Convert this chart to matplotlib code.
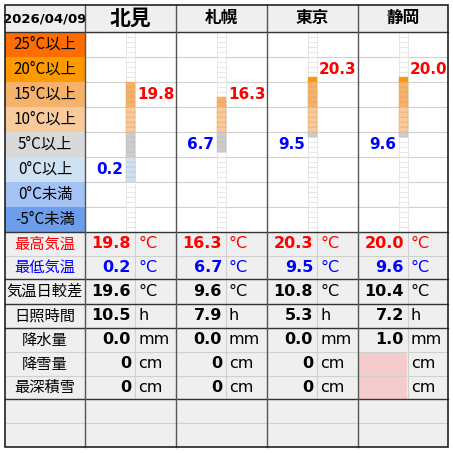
import math
import matplotlib
matplotlib.use("Agg")
import matplotlib.pyplot as plt
from matplotlib.patches import Rectangle

plt.rcParams['font.family'] = ['Noto Sans CJK JP', 'DejaVu Sans']

date_label = "2026/04/09"
cities = ["北見", "札幌", "東京", "静岡"]
t_max = [19.8, 16.3, 20.3, 20.0]
t_min = [0.2, 6.7, 9.5, 9.6]
t_range = [19.6, 9.6, 10.8, 10.4]
sunshine = [10.5, 7.9, 5.3, 7.2]
precip = [0.0, 0.0, 0.0, 1.0]
snowfall = [0, 0, 0, None]
snowdepth = [0, 0, 0, None]
band_labels = ["25°C以上", "20°C以上", "15°C以上", "10°C以上", "5°C以上", "0°C以上", "0°C未満", "-5°C未満"]
band_lows = [25, 20, 15, 10, 5, 0, -5, -10]
band_colors = ["#FF6D01", "#FF9900", "#F6B26B", "#F9CB9C", "#D9D9D9", "#CFE2F3", "#A4C2F4", "#6D9EEB"]
bar_colors = ["#FF6D01", "#FF9900", "#F6B26B", "#F9CB9C", "#CCCCCC", "#CFE2F3", "#A4C2F4", "#6D9EEB"]

fig = plt.figure(figsize=(4.53, 4.53), dpi=100)
ax = fig.add_axes([0, 0, 1, 1])
ax.set_xlim(0, 453); ax.set_ylim(453, 0); ax.axis('off')

X0, XL, XR = 5, 85, 448
colx = [85, 176, 267, 358, 448]
YH, YB0 = 5, 32
BH = 25
def ty(t):
    return YB0 + (30 - t) * 5

def rect(x, y, w, h, fc, ec='none', lw=0, z=1):
    ax.add_patch(Rectangle((x, y), w, h, fc=fc, ec=ec, lw=lw, zorder=z))

def band_of(t):
    for k, lb in enumerate(band_lows):
        if t >= lb:
            return k
    return 7

# header
rect(X0, YH, XR - X0, YB0 - YH, "#EFEFEF")
ax.text((X0 + XL) / 2, 19, date_label, ha='center', va='center', fontsize=9.5, fontweight='bold', family=['DejaVu Sans'])
for i, c in enumerate(cities):
    ax.text((colx[i] + colx[i+1]) / 2, 18, c, ha='center', va='center',
            fontsize=15 if i == 0 else 12, fontweight='bold')

# bands
for k, (lab, col) in enumerate(zip(band_labels, band_colors)):
    y = YB0 + k * BH
    rect(X0, y, XL - X0, BH, col)
    ax.text((X0 + XL) / 2, y + BH / 2, lab, ha='center', va='center', fontsize=11)
    ax.plot([XL, XR], [y, y], color="#D0D0D0", lw=0.8, zorder=2)

for i in range(4):
    bx = colx[i] + 41
    bw = 9
    lo, hi = math.floor(t_min[i]), math.floor(t_max[i]) + 1
    for d in range(-10, 30):
        y = ty(d + 1)
        if lo <= d < hi:
            rect(bx, y, bw, 5, bar_colors[band_of(d)], ec="#E0A060" if d >= 10 else "#BBBBBB", lw=0.3, z=3)
        else:
            ax.plot([bx, bx + bw], [y, y], color="#E3E3E3", lw=0.6, zorder=2)
    ax.plot([bx, bx], [YB0, 232], color="#E3E3E3", lw=0.6, zorder=2)
    ax.plot([bx + bw, bx + bw], [YB0, 232], color="#E3E3E3", lw=0.6, zorder=2)
    kmax = band_of(t_max[i]); kmin = band_of(t_min[i])
    ax.text(bx + 11, YB0 + kmax * BH + BH / 2, f"{t_max[i]:.1f}", ha='left', va='center',
            color='#FF0000', fontsize=11, fontweight='bold', family=['DejaVu Sans'], zorder=4)
    ax.text(bx - 3, YB0 + kmin * BH + BH / 2, f"{t_min[i]:.1f}", ha='right', va='center',
            color='#0000FF', fontsize=11, fontweight='bold', family=['DejaVu Sans'], zorder=4)

# bottom rows
rows_y = [232, 256, 279, 304, 328, 352, 376, 399, 423, 447]
rect(X0, 232, XR - X0, 447 - 232, "#EFEFEF")
row_labels = ["最高気温", "最低気温", "気温日較差", "日照時間", "降水量", "降雪量", "最深積雪"]
row_colors = ["#FF0000", "#0000FF", "black", "black", "black", "black", "black"]
row_vals = [[f"{v:.1f}" for v in t_max], [f"{v:.1f}" for v in t_min],
            [f"{v:.1f}" for v in t_range], [f"{v:.1f}" for v in sunshine],
            [f"{v:.1f}" for v in precip],
            [None if v is None else f"{v}" for v in snowfall],
            [None if v is None else f"{v}" for v in snowdepth]]
units = ["°C", "°C", "°C", "h", "mm", "cm", "cm"]
for r in range(7):
    y0, y1 = rows_y[r], rows_y[r + 1]
    yc = (y0 + y1) / 2
    ax.text((X0 + XL) / 2, yc, row_labels[r], ha='center', va='center', fontsize=11, color=row_colors[r])
    for i in range(4):
        v = row_vals[r][i]
        if v is None:
            rect(colx[i] + 1, y0 + 0.5, 48, y1 - y0 - 1, "#F4CCCC", z=1.5)
        else:
            ax.text(colx[i] + 46, yc, v, ha='right', va='center', fontsize=11.5, fontweight='bold',
                    color=row_colors[r], family=['DejaVu Sans'])
        ax.text(colx[i] + 53, yc, units[r], ha='left', va='center', fontsize=11.5, color=row_colors[r],
                family=['DejaVu Sans'])
for y in rows_y[1:-1]:
    ax.plot([X0, XR], [y, y], color="#D0D0D0", lw=0.8, zorder=2)
for i in range(4):
    ax.plot([colx[i] + 50, colx[i] + 50], [232, 399], color="#D0D0D0", lw=0.8, zorder=2)

# strong lines
for y in [YB0, 232, 279, 304, 328, 399]:
    ax.plot([X0, XR], [y, y], color="#333333", lw=1.0, zorder=5)
for x in colx[:-1]:
    ax.plot([x, x], [YH, 447], color="#555555", lw=1.0, zorder=5)
ax.add_patch(Rectangle((X0, YH), XR - X0, 447 - YH, fill=False, ec="#222222", lw=1.2, zorder=6))

fig.savefig("out.png", dpi=100, facecolor='white')
